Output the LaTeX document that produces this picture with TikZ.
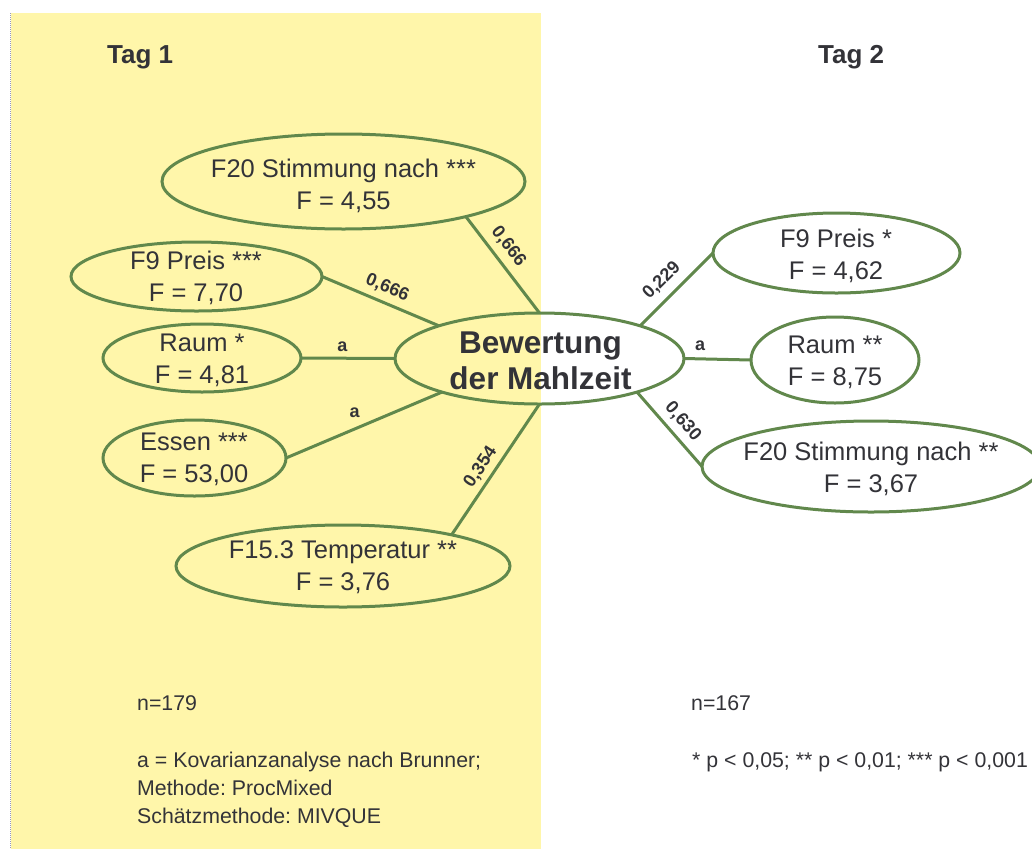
\documentclass[tikz,border=0pt]{standalone}
\usepackage{fontspec}
\setmainfont{Liberation Sans}
\usetikzlibrary{shapes.geometric}
\definecolor{bgyellow}{RGB}{255,246,170}
\definecolor{edgegreen}{RGB}{97,136,76}
\definecolor{txtgray}{RGB}{51,51,56}
\definecolor{rulegray}{RGB}{150,150,180}
\frenchspacing
\begin{document}
\begin{tikzpicture}[x=1pt,y=-1pt,
  oval/.style={ellipse, draw=edgegreen, line width=3pt, inner sep=0pt, outer sep=0pt},
  link/.style={draw=edgegreen, line width=3pt},
  ovaltext/.style={align=center, text=txtgray, font=\fontsize{25.5}{32}\selectfont, inner sep=0pt},
  hubtext/.style={align=center, text=txtgray, font=\bfseries\fontsize{31.5}{36}\selectfont, inner sep=0pt},
  coef/.style={font=\bfseries\fontsize{18}{18}\selectfont, text=txtgray, inner sep=1.5pt},
  daytitle/.style={anchor=base west, text=txtgray, font=\bfseries\fontsize{26}{30}\selectfont, inner sep=0pt},
  note/.style={anchor=base west, text=txtgray, font=\fontsize{21.3}{28}\selectfont, inner sep=0pt},
  ]
\useasboundingbox (0,0) rectangle (1032,849);
\clip (0,0) rectangle (1032,849);

% day 1 panel
\fill[bgyellow] (11,13) rectangle (541,849);
\draw[rulegray, line width=1pt, densely dotted] (10.5,13) -- (10.5,849);

% outlines
\node[oval, minimum width=363pt, minimum height=95pt] (f20a) at (343.5,181.5) {};
\node[oval, minimum width=251pt, minimum height=69pt] (f9a) at (196.5,276.5) {};
\node[oval, minimum width=198pt, minimum height=68pt] (raum1) at (202,358) {};
\node[oval, minimum width=183pt, minimum height=76pt] (essen) at (194.5,458) {};
\node[oval, minimum width=334pt, minimum height=82pt] (f15) at (343,566) {};
\node[oval, minimum width=289pt, minimum height=91pt] (bew) at (539.5,358.5) {};
\node[oval, minimum width=247pt, minimum height=80pt] (f9b) at (836.5,253) {};
\node[oval, minimum width=168pt, minimum height=86pt] (raum2) at (835,360) {};
\node[oval, minimum width=338pt, minimum height=91pt] (f20b) at (871,466.5) {};

% texts inside the ovals
\node[ovaltext] (f20at) at (343.5,185.7) {F20 Stimmung nach ***\\F = 4,55};
\node[ovaltext] (f9at) at (196,278.3) {F9 Preis ***\\F = 7,70};
\node[ovaltext] (raum1t) at (202,360.2) {Raum *\\F = 4,81};
\node[ovaltext] (essent) at (194,459.6) {Essen ***\\F = 53,00};
\node[ovaltext] (f15t) at (343,567.6) {F15.3 Temperatur **\\F = 3,76};
\node[hubtext] (bewt) at (540.5,361) {Bewertung\\der Mahlzeit};
\node[ovaltext] (f9bt) at (836,255.4) {F9 Preis *\\F = 4,62};
\node[ovaltext] (raum2t) at (835,362.3) {Raum **\\F = 8,75};
\node[ovaltext] (f20bt) at (871,469) {F20 Stimmung nach **\\F = 3,67};

% connectors with coefficients
\draw[link] (f20a.-16) -- node[coef, sloped, above=5pt, pos=0.41] {0,666} (bew.north);
\draw[link] (f9a.east) -- node[coef, sloped, above=4pt, pos=0.51] {0,666} (bew.162);
\draw[link] (raum1.east) -- node[coef, above=4pt, pos=0.44] {a} (bew.west);
\draw[link] (essen.east) -- node[coef, above=8pt, pos=0.44] {a} (bew.199);
\draw[link] (f15.16) -- node[coef, sloped, above=3pt, pos=0.46] {0,354} (bew.south);
\draw[link] (bew.18) -- node[coef, sloped, above=6pt, pos=0.46] {0,229} (f9b.west);
\draw[link] (bew.east) -- node[coef, above=5pt, pos=0.24] {a} (raum2.west);
\draw[link] (bew.-19) -- node[coef, sloped, above=4.5pt, pos=0.53] {0,630} (f20b.west);

% headings
\node[daytitle] (tag1) at (107,63) {Tag 1};
\node[daytitle] (tag2) at (818,63) {Tag 2};

% notes
\node[note] (n1) at (137,710) {n=179};
\node[note] (n2) at (691,710) {n=167};
\node[note] (legend1) at (137,767) {a = Kovarianzanalyse nach Brunner;};
\node[note] (legend2) at (137,795) {Methode: ProcMixed};
\node[note] (legend3) at (137,823) {Schätzmethode: MIVQUE};
\node[note] (sig) at (692,767) {* p < 0,05; ** p < 0,01; *** p < 0,001};
\end{tikzpicture}
\end{document}
